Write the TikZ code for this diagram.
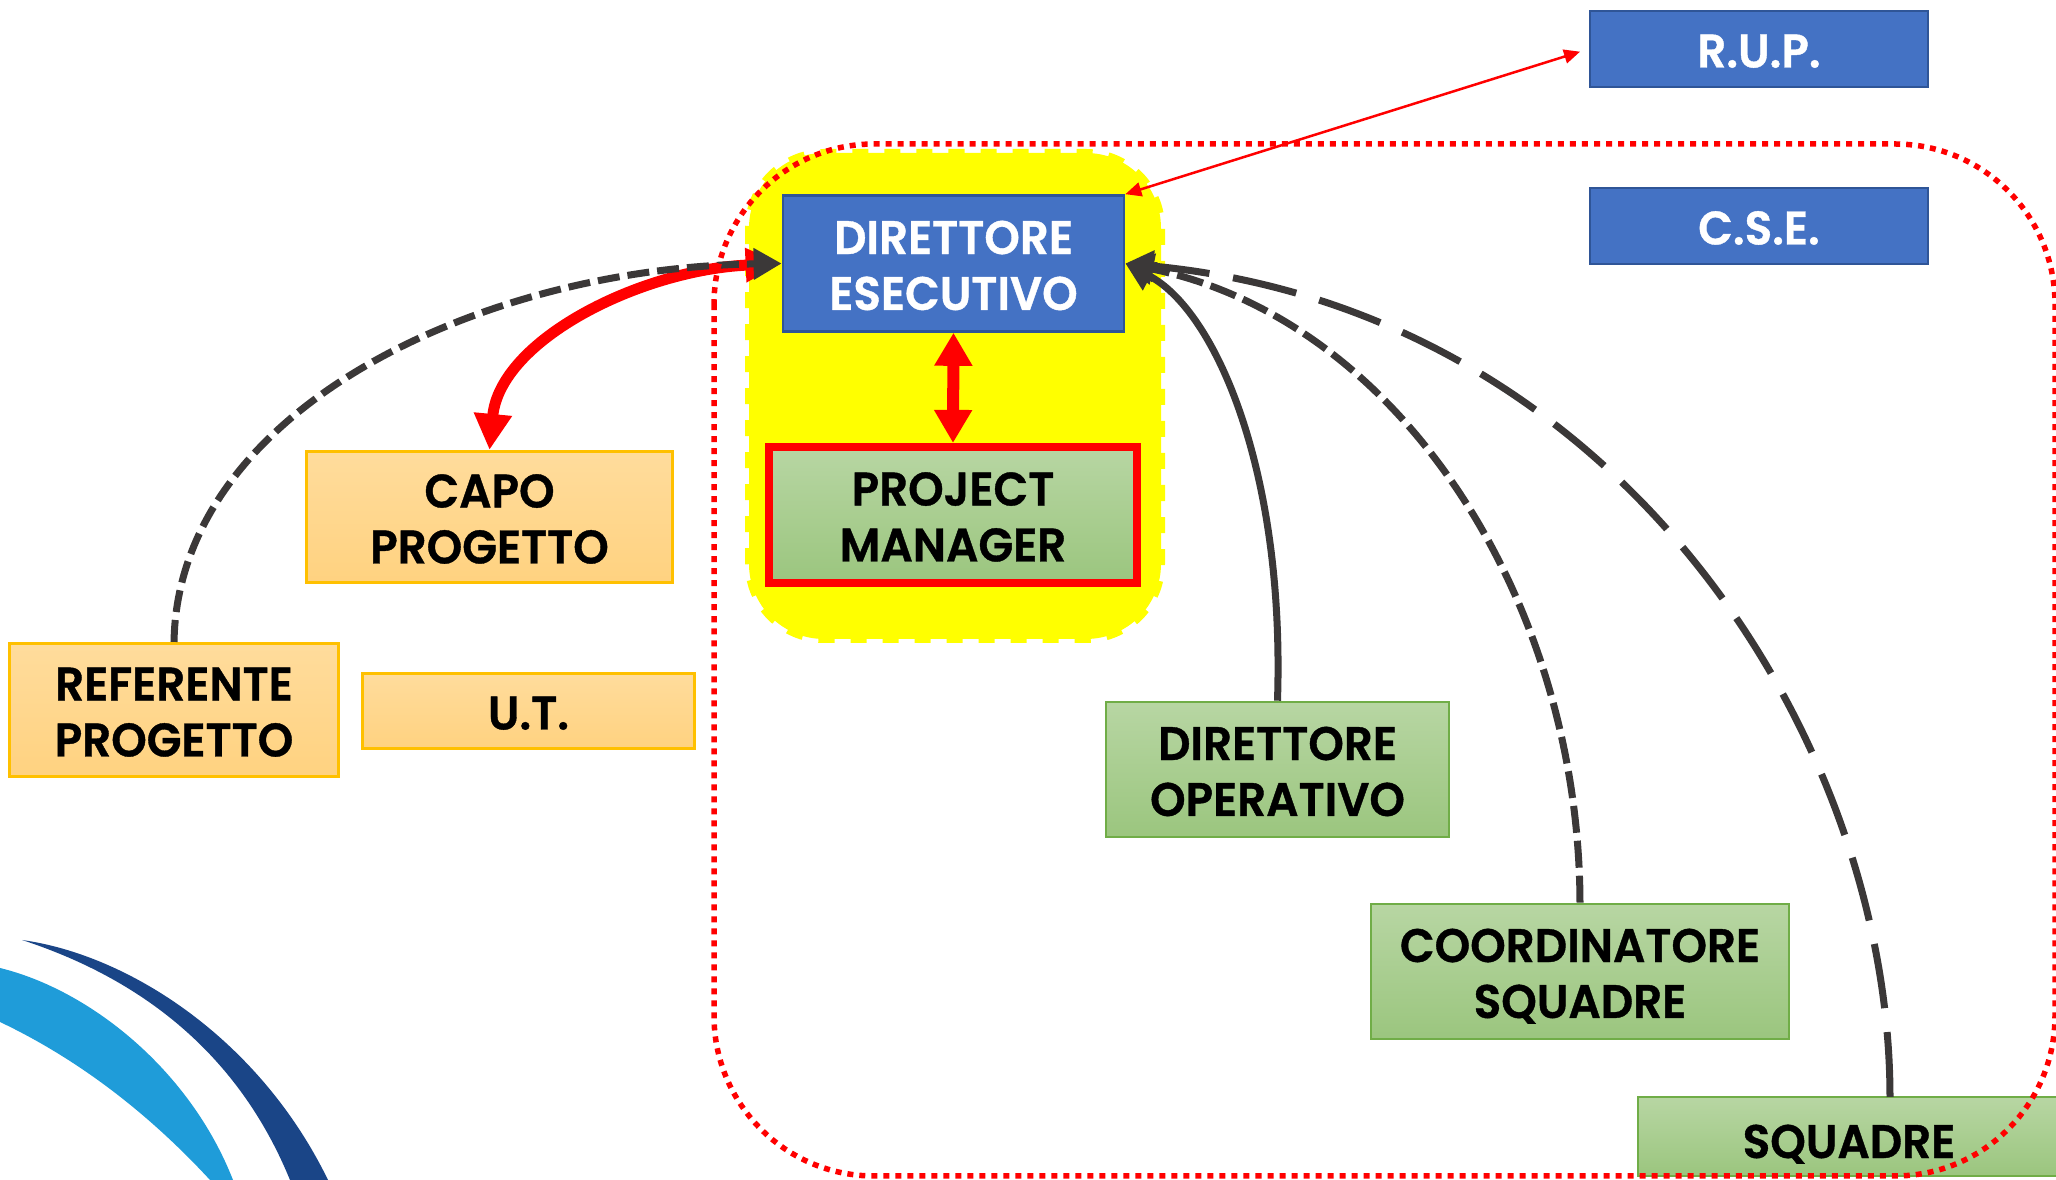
\documentclass[tikz,border=0pt]{standalone}
\usepackage{fontspec}
\setmainfont{Poppins}[BoldFont={Poppins SemiBold},BoldFeatures={FakeStretch=0.96,FakeBold=0.8}]
\usetikzlibrary{arrows.meta}
\definecolor{boxblue}{HTML}{4472C4}
\definecolor{boxblueline}{HTML}{2F5597}
\definecolor{boxgreen}{HTML}{70AD47}
\definecolor{boxorange}{HTML}{FFC000}
\definecolor{darkline}{HTML}{3B3838}
\definecolor{logodark}{HTML}{1A4587}
\definecolor{logolight}{HTML}{1F9CD9}
\definecolor{markyellow}{RGB}{255,255,0}
\definecolor{markred}{RGB}{255,0,0}
\definecolor{orangetop}{HTML}{FFDC9C}
\definecolor{orangebottom}{HTML}{FFD280}
\tikzset{
  labelbox/.style={align=center, font=\fontsize{13.4}{15.9}\selectfont\bfseries, inner sep=0pt, line width=0.025cm, text height=0.929cm, text depth=0cm},
  oneline/.style={text height=0.37cm},
  bluebox/.style={labelbox, draw=boxblueline, fill=boxblue, text=white},
  greenbox/.style={labelbox, draw=boxgreen, top color=boxgreen!50!white, bottom color=boxgreen!70!white},
  orangebox/.style={labelbox, draw=boxorange, line width=0.03cm, top color=orangetop, bottom color=orangebottom},
  darkarrow/.style={darkline, line width=0.07cm, -{Triangle[length=0.28cm,width=0.30cm]}},
}
\begin{document}
\begin{tikzpicture}[x=0.01cm, y=-0.01cm]
\path[use as bounding box, clip] (0,0) rectangle (2056,1180);

% logo
\fill[logodark] (22,940) .. controls (130,955) and (260,1040) .. (328,1180) -- (290,1180) .. controls (245,1070) and (160,985) .. (22,940);
\fill[logolight] (0,968) .. controls (90,990) and (190,1070) .. (233,1180) -- (210,1180) .. controls (150,1115) and (80,1060) .. (0,1022) -- cycle;

% yellow area
\draw[markyellow, fill=markyellow, line width=0.08cm, dash pattern=on 0.16cm off 0.16cm, rounded corners=0.75cm] (749,153) rectangle (1161,639);

\node[bluebox, oneline, minimum width=3.38cm, minimum height=0.76cm] (rup) at (1759,49) {R.U.P.};
\node[bluebox, oneline, minimum width=3.38cm, minimum height=0.76cm] (cse) at (1759,226) {C.S.E.};
\node[bluebox, minimum width=3.41cm, minimum height=1.36cm] (direttore) at (953.5,263.5) {DIRETTORE\\ESECUTIVO};
\node[greenbox, draw=markred, line width=0.08cm, minimum width=3.68cm, minimum height=1.36cm] (pm) at (953,515) {PROJECT\\MANAGER};
\node[orangebox, minimum width=3.66cm, minimum height=1.31cm] (capo) at (489.5,517) {CAPO\\PROGETTO};
\node[orangebox, oneline, minimum width=3.32cm, minimum height=0.75cm] (ut) at (528.5,711) {U.T.};
\node[orangebox, minimum width=3.29cm, minimum height=1.33cm] (referente) at (174,710) {REFERENTE\\PROGETTO};
\node[greenbox, minimum width=3.43cm, minimum height=1.35cm] (operativo) at (1277.5,769.5) {DIRETTORE\\OPERATIVO};
\node[greenbox, minimum width=4.18cm, minimum height=1.35cm] (coordinatore) at (1580,971.5) {COORDINATORE\\SQUADRE};
\node[greenbox, oneline, text height=0.43cm, minimum width=4.22cm, minimum height=0.79cm] (squadre) at (1849,1136.5) {SQUADRE};
\coordinate (squadretop) at (1890,1097);

\draw[markred, line width=0.11cm, {Triangle[length=0.36cm,width=0.32cm]}-{Triangle[length=0.36cm,width=0.36cm]}] (direttore.west) .. controls (640,270) and (500,340) .. (capo.north);
\draw[markred, line width=0.12cm, {Triangle[length=0.33cm,width=0.36cm]}-{Triangle[length=0.33cm,width=0.36cm]}] (direttore.south) -- (pm.north);
\draw[markred, line width=0.025cm, {Triangle[length=0.16cm,width=0.14cm]}-{Triangle[length=0.16cm,width=0.14cm]}, shorten >=0.09cm] (direttore.north east) -- (rup.west);
\draw[darkarrow, dash pattern=on 0.22cm off 0.08cm] (referente.north) .. controls (178,410) and (480,268) .. (direttore.west);
\draw[darkarrow] (operativo.north) .. controls (1285,470) and (1215,310) .. (direttore.east);
\draw[darkarrow, dash pattern=on 0.27cm off 0.08cm] (coordinatore.north) .. controls (1579,600) and (1400,320) .. (direttore.east);
\draw[darkarrow, dash pattern=on 0.65cm off 0.24cm] (squadretop) .. controls (1890,740) and (1620,310) .. (direttore.east);

% dotted frame
\draw[markred, line width=0.055cm, dash pattern=on 0.06cm off 0.06cm, rounded corners=1.6cm] (714,144) rectangle (2055,1176);
\end{tikzpicture}
\end{document}
